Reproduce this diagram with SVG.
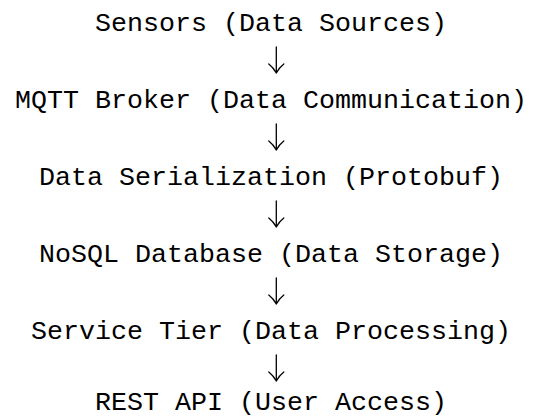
<svg xmlns="http://www.w3.org/2000/svg" width="534" height="418" viewBox="0 0 534 418">
<style>
text{font-family:"Liberation Mono","DejaVu Sans Mono",monospace;font-size:26.67px;fill:#000;text-anchor:middle}
.arr{fill:none;stroke:#000;stroke-width:1.3;stroke-linecap:round;stroke-linejoin:round}
</style>
<rect width="534" height="418" fill="#fff"/>
<g id="n1"><text x="271" y="31">Sensors (Data Sources)</text></g>
<g id="n2"><text x="271" y="108">MQTT Broker (Data Communication)</text></g>
<g id="n3"><text x="271" y="185">Data Serialization (Protobuf)</text></g>
<g id="n4"><text x="271" y="262">NoSQL Database (Data Storage)</text></g>
<g id="n5"><text x="271" y="339">Service Tier (Data Processing)</text></g>
<g id="n6"><text x="271" y="410">REST API (User Access)</text></g>
<g id="connectors">
<path class="arr" d="M276.3,47 V73 M268.8,64 Q273.3,67.5 276.3,73 Q279.3,67.5 283.8,64"/>
<path class="arr" d="M276.3,124 V150 M268.8,141 Q273.3,144.5 276.3,150 Q279.3,144.5 283.8,141"/>
<path class="arr" d="M276.3,201 V227 M268.8,218 Q273.3,221.5 276.3,227 Q279.3,221.5 283.8,218"/>
<path class="arr" d="M276.3,278 V304 M268.8,295 Q273.3,298.5 276.3,304 Q279.3,298.5 283.8,295"/>
<path class="arr" d="M276.3,355 V381 M268.8,372 Q273.3,375.5 276.3,381 Q279.3,375.5 283.8,372"/>
</g>
</svg>
